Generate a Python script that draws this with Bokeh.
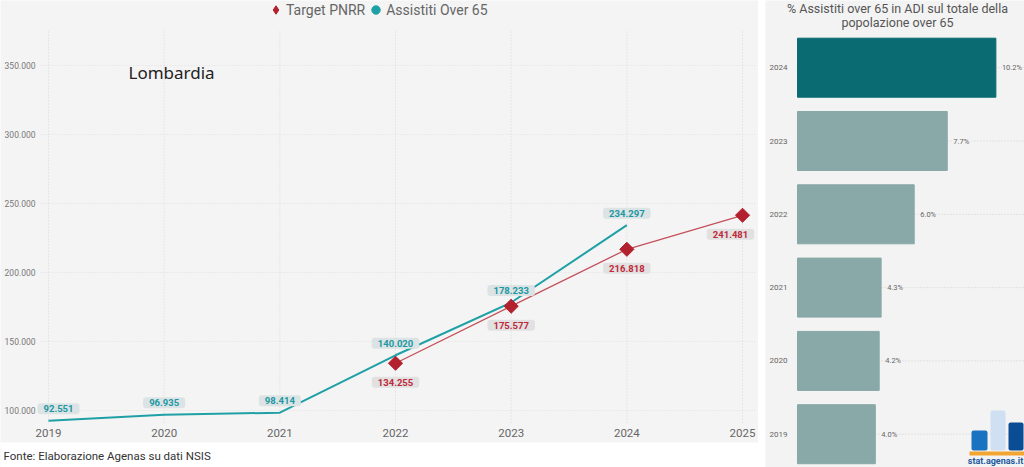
import numpy as np
from bokeh.plotting import figure
from bokeh.models import (Range1d, Label, LabelSet, ColumnDataSource,
                          Legend, LegendItem, BoxAnnotation, Spacer)
from bokeh.layouts import row
from bokeh.core.properties import value
from bokeh.embed import file_html
from bokeh.resources import INLINE

# ---------------- data ----------------
region = "Lombardia"
years = [2019, 2020, 2021, 2022, 2023, 2024, 2025]
year_labels = ["2019", "2020", "2021", "2022", "2023", "2024", "2025"]
assistiti_years = [2019, 2020, 2021, 2022, 2023, 2024]
assistiti_values = [92551, 96935, 98414, 140020, 178233, 234297]
target_years = [2022, 2023, 2024, 2025]
target_values = [134255, 175577, 216818, 241481]
y_ticks = [100000, 150000, 200000, 250000, 300000, 350000]
y_tick_labels = ["100.000", "150.000", "200.000", "250.000", "300.000", "350.000"]
legend_labels = ["Target PNRR", "Assistiti Over 65"]
footer_text = "Fonte: Elaborazione Agenas su dati NSIS"

bar_title = ["% Assistiti over 65 in ADI sul totale della", "popolazione over 65"]
bar_categories = ["2019", "2020", "2021", "2022", "2023", "2024"]
bar_values = [4.0, 4.2, 4.3, 6.0, 7.7, 10.2]
logo_text = "stat.agenas.it"

# ---------------- styles ----------------
FONT = "Roboto"
BG = "#f4f4f4"
BG2 = "#f3f3f3"
TEAL = "#1fa0a6"
TEAL_TEXT = "#1b98a3"
RED = "#b3202e"
RED_LINE = "#c4505a"
RED_TEXT = "#c0283a"
BAR_BASE = "#89a8a8"
BAR_HI = "#0b6b72"
GRID = "#d9d9d9"
LABEL_PAD = dict(left=6, right=6, top=2, bottom=2)


def fmt_thousands(v):
    return f"{v:,}".replace(",", ".")


# pixel -> data helpers for the left chart (page pixels)
LX0, LXU = 48.0, 115.67      # page x of 2019, px per year
LY0, LYU = 410.0, 0.00138    # page y of 100.000, px per unit


def vx(px):
    return 2019 + (px - LX0) / LXU


def vy(py):
    return 100000 + (LY0 - py) / LYU


# ---------------- left line chart ----------------
W1, H1 = 758, 467
p1 = figure(width=W1, height=H1,
            x_range=Range1d(vx(0), vx(W1)), y_range=Range1d(vy(H1), vy(0)),
            output_backend="svg", toolbar_location=None,
            x_axis_location=None, y_axis_location=None, min_border=0,
            background_fill_color=BG, border_fill_color=BG, outline_line_color=None)
p1.grid.visible = False

# grid lines
p1.segment(x0=years, y0=[vy(422)] * len(years), x1=years, y1=[vy(30)] * len(years),
           line_color=GRID, line_dash="1 2", line_width=1)
p1.segment(x0=[vx(40)] * len(y_ticks), y0=y_ticks, x1=[vx(755)] * len(y_ticks),
           y1=y_ticks, line_color="#e0e0e0", line_dash="1 2", line_width=1)

# tick labels
p1.text(x=[vx(35)] * len(y_ticks), y=y_ticks, text=y_tick_labels,
        text_align="right", text_baseline="middle", text_font=value(FONT),
        text_font_size="8.5px", text_color="#777777")
p1.text(x=years, y=[vy(432)] * len(years), text=year_labels,
        text_align="center", text_baseline="middle", text_font=value(FONT),
        text_font_size="11.5px", text_color="#666666")

# series
p1.line(assistiti_years, assistiti_values, color=TEAL, line_width=2)
p1.line(target_years, target_values, color=RED_LINE, line_width=1.3)
p1.scatter(target_years, target_values, marker="square", angle=np.pi / 4,
           size=10, color=RED)
leg_t = p1.scatter(target_years, target_values, marker="diamond", size=0, color=RED)
leg_a = p1.scatter(assistiti_years, assistiti_values, size=0, color=TEAL)

legend = Legend(items=[LegendItem(label=legend_labels[0], renderers=[leg_t]),
                       LegendItem(label=legend_labels[1], renderers=[leg_a])],
                orientation="horizontal", location=(265, H1 - 20),
                label_text_font=FONT, label_text_font_size="14px",
                label_text_color="#666666", glyph_width=21, glyph_height=21,
                label_height=21, spacing=0, padding=0, margin=0, label_standoff=0,
                background_fill_alpha=0, border_line_color=None)
p1.add_layout(legend)

# data labels
nudge = {2019: 10, 2025: -12}
for x, v in zip(assistiti_years, assistiti_values):
    p1.add_layout(Label(x=x, y=v, text=fmt_thousands(v), x_offset=nudge.get(x, 0),
                        y_offset=12, text_align="center", text_baseline="middle",
                        text_font=FONT, text_font_size="9.5px", text_font_style="bold",
                        text_color=TEAL_TEXT, background_fill_color="#dce3e4",
                        padding=LABEL_PAD, border_radius=3))
for x, v in zip(target_years, target_values):
    p1.add_layout(Label(x=x, y=v, text=fmt_thousands(v), x_offset=nudge.get(x, 0),
                        y_offset=-19, text_align="center", text_baseline="middle",
                        text_font=FONT, text_font_size="9.5px", text_font_style="bold",
                        text_color=RED_TEXT, background_fill_color="#e1e1e1",
                        padding=LABEL_PAD, border_radius=3))

p1.add_layout(Label(x=vx(128), y=vy(72), text=region, text_align="left",
                    text_baseline="middle", text_font="Noto Sans",
                    text_font_size="17px", text_color="#222222"))

# white footer band + source note
p1.add_layout(BoxAnnotation(left=vx(-5), right=vx(W1 + 5), top=vy(442), bottom=vy(H1 + 5),
                            fill_color="white", fill_alpha=1, line_color=None))
p1.add_layout(Label(x=vx(3), y=vy(455), text=footer_text, text_align="left",
                    text_baseline="middle", text_font=FONT, text_font_size="11.5px",
                    text_color="#333333"))

# ---------------- right bar chart ----------------
W2, H2 = 259, 467
X2_0 = 765                # page x of the right panel
PX0, PXU = 797.0, 19.45   # page x of 0% and px per %
PY5, PYU = 67.2, 73.3     # page y of the top bar centre and px per category


def px2x(px):
    return (px - PX0) / PXU


def py2y(py):
    return 5 + (PY5 - py) / PYU


p2 = figure(width=W2, height=H2,
            x_range=Range1d(px2x(X2_0), px2x(X2_0 + W2)), y_range=Range1d(py2y(H2), py2y(0)),
            output_backend="svg", toolbar_location=None,
            x_axis_location=None, y_axis_location=None, min_border=0,
            background_fill_color=BG2, border_fill_color=BG2, outline_line_color=None)
p2.grid.visible = False

idx = list(range(len(bar_categories)))
latest = max(bar_categories)
colors = [BAR_HI if c == latest else BAR_BASE for c in bar_categories]

p2.segment(x0=[0] * len(idx), y0=idx, x1=[px2x(X2_0 + W2)] * len(idx), y1=idx,
           line_color="#d0d0d0", line_dash="1 2", line_width=1)
p2.hbar(y=idx, left=0, right=bar_values, height=0.805, color=colors)

src = ColumnDataSource(dict(x=bar_values, y=idx, text=[f"{v:.1f}%" for v in bar_values]))
p2.add_layout(LabelSet(x="x", y="y", text="text", source=src, x_offset=6,
                       text_baseline="middle", text_font=value(FONT),
                       text_font_size="7.5px", text_color="#666666",
                       background_fill_color=BG2))

p2.text(x=[px2x(787)] * len(idx), y=idx, text=bar_categories, text_align="right",
        text_baseline="middle", text_font=value(FONT), text_font_size="8px",
        text_color="#666666")

for i, line in enumerate(bar_title):
    p2.add_layout(Label(x=px2x(897), y=py2y(8 + 13.5 * i), text=line,
                        text_align="center", text_baseline="middle", text_font=FONT,
                        text_font_size="12.5px", text_color="#555555"))

# logo (decoration)
for l, r, t, c in [(971, 987, 430, "#1a73c0"), (990, 1005, 410, "#cfe0f2"),
                   (1008, 1023, 422, "#0b4d94")]:
    p2.add_layout(BoxAnnotation(left=px2x(l), right=px2x(r), top=py2y(t), bottom=py2y(450),
                                fill_color=c, fill_alpha=1, line_color=None,
                                border_radius=2))
p2.add_layout(BoxAnnotation(left=px2x(969), right=px2x(1024), top=py2y(451),
                            bottom=py2y(455), fill_color="#f2a531", fill_alpha=1,
                            line_color=None))
p2.add_layout(Label(x=px2x(995), y=py2y(460.5), text=logo_text, text_align="center",
                    text_baseline="middle", text_font=FONT, text_font_size="9px",
                    text_font_style="bold", text_color="#1e5aa0"))

layout = row(p1, Spacer(width=X2_0 - W1, height=H2), p2)

open("out.html", "w").write(file_html(layout, INLINE))
